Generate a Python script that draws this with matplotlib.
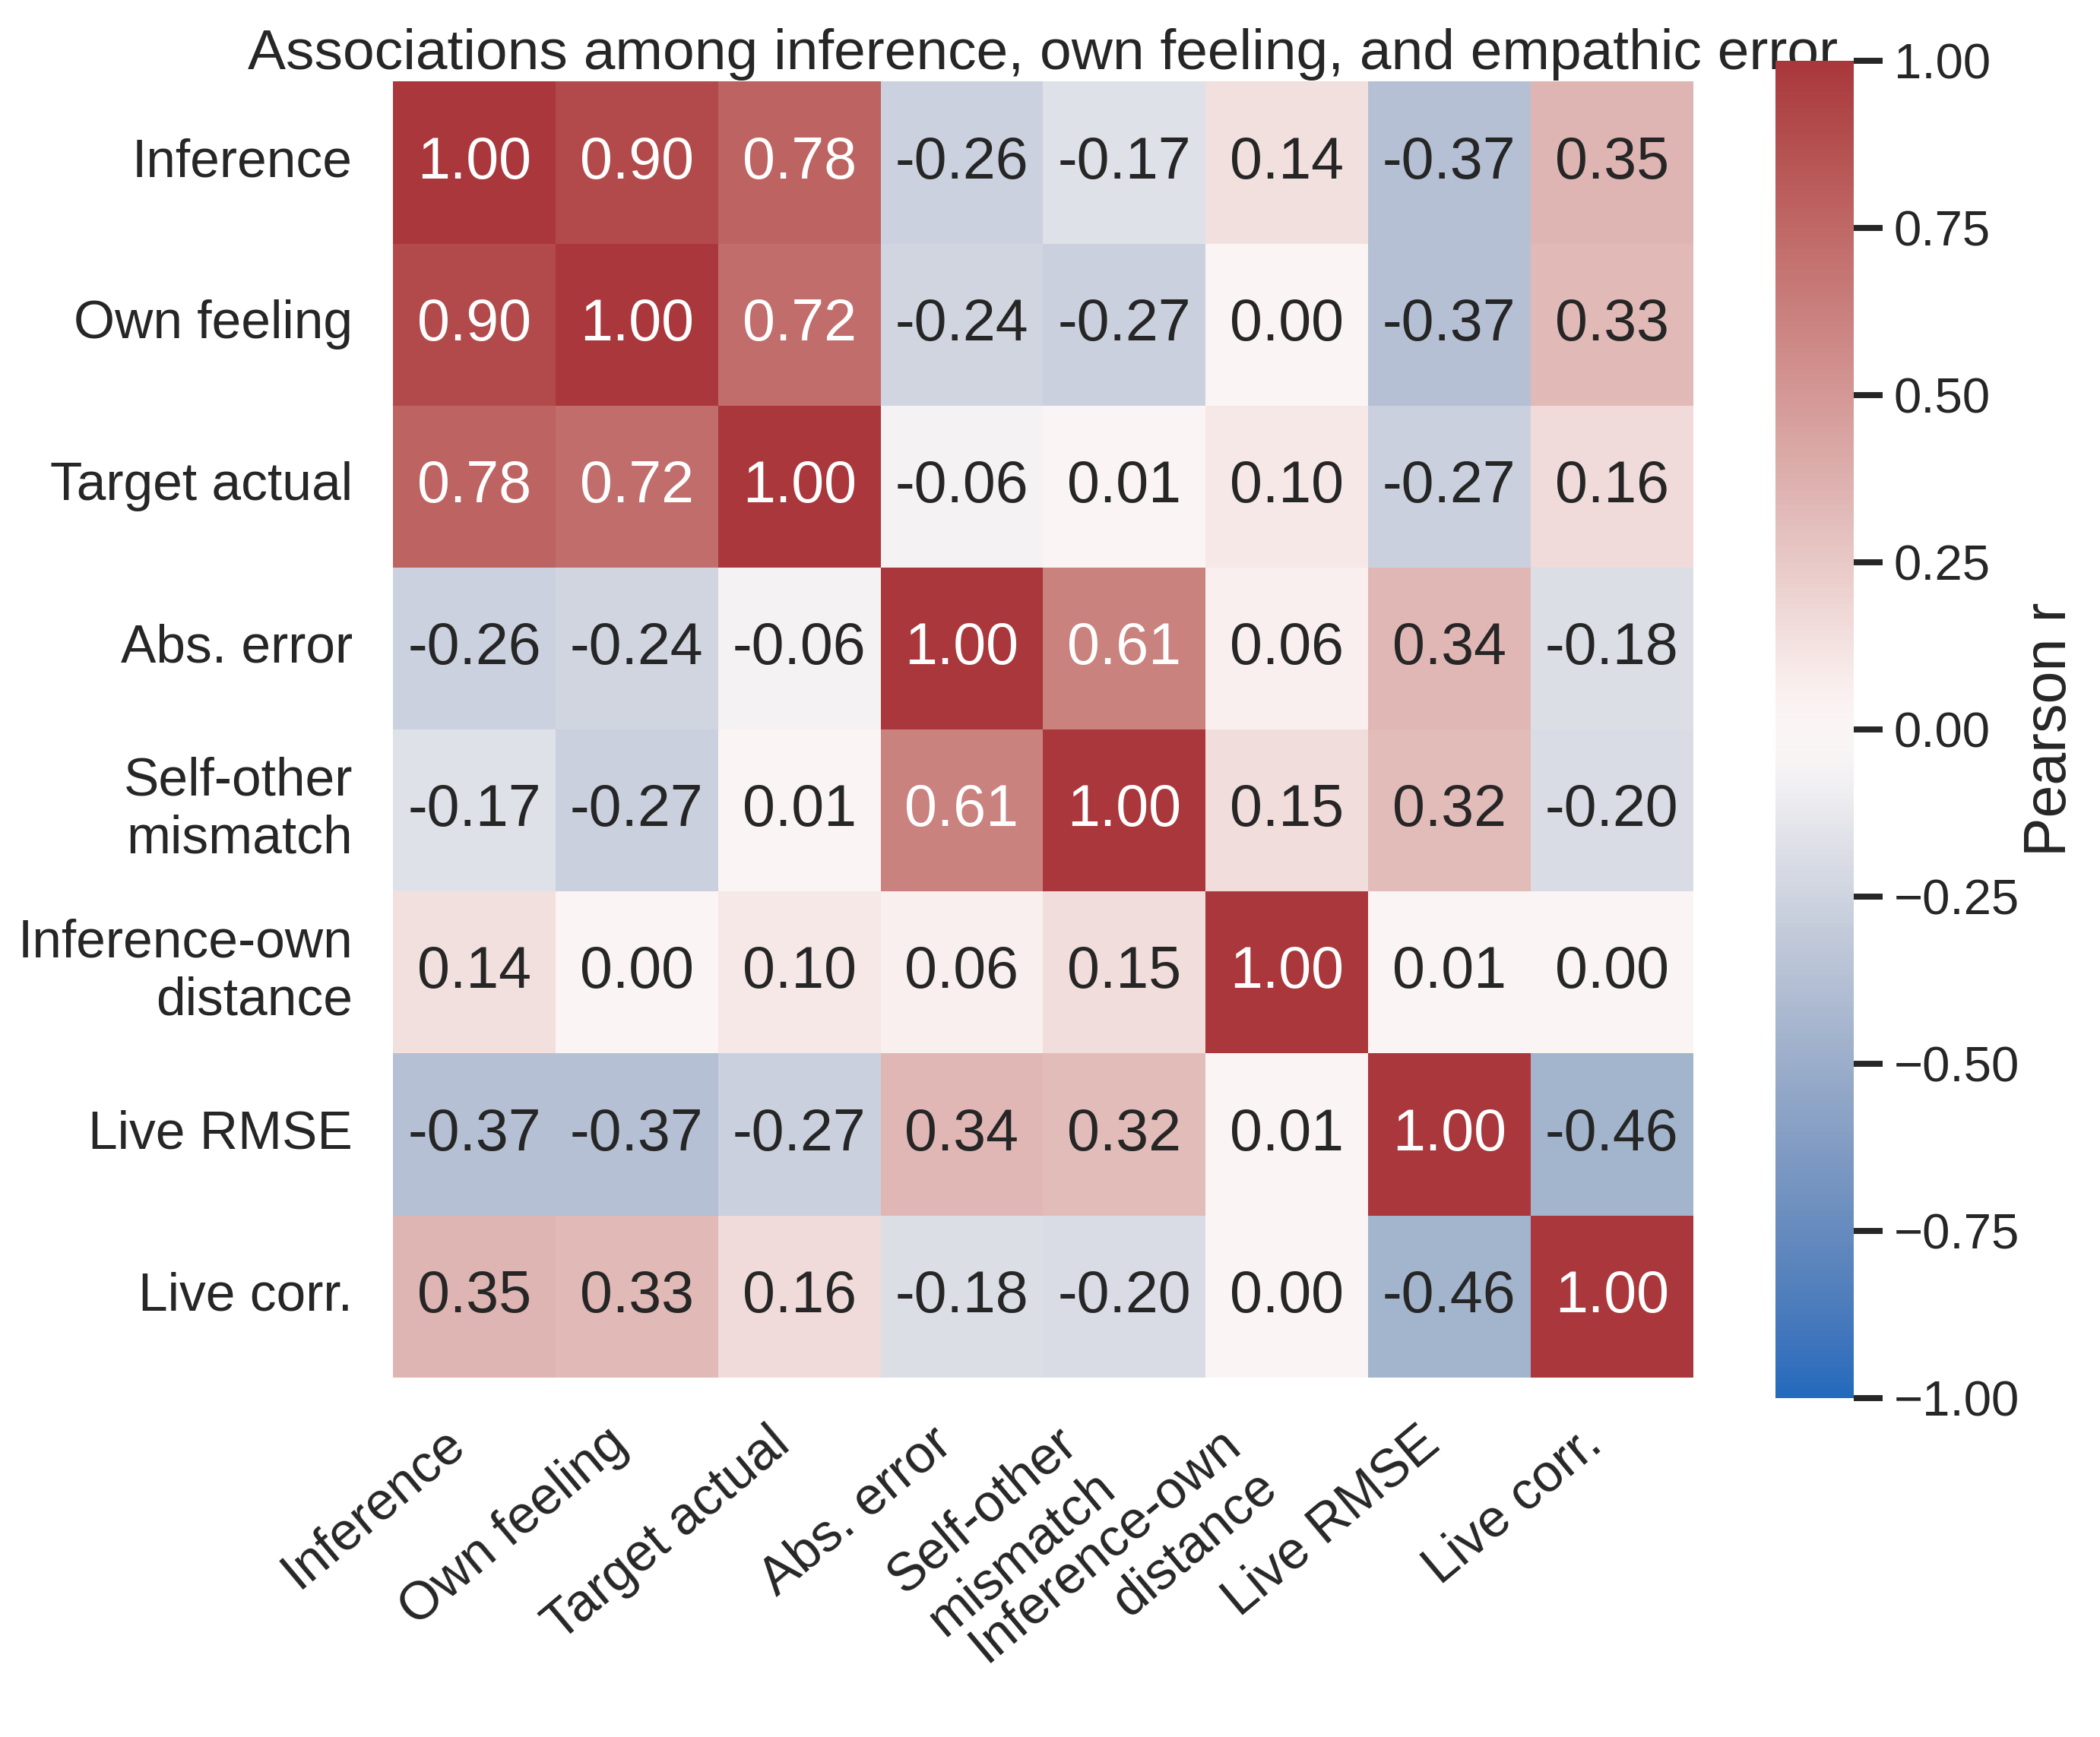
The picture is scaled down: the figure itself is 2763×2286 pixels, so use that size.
import numpy as np
import matplotlib
matplotlib.use("Agg")
import matplotlib.pyplot as plt
import seaborn as sns

labels = ["Inference", "Own feeling", "Target actual", "Abs. error",
          "Self-other\nmismatch", "Inference-own\ndistance", "Live RMSE", "Live corr."]

corr = np.array([
    [1.00, 0.90, 0.78, -0.26, -0.17, 0.14, -0.37, 0.35],
    [0.90, 1.00, 0.72, -0.24, -0.27, 0.00, -0.37, 0.33],
    [0.78, 0.72, 1.00, -0.06, 0.01, 0.10, -0.27, 0.16],
    [-0.26, -0.24, -0.06, 1.00, 0.61, 0.06, 0.34, -0.18],
    [-0.17, -0.27, 0.01, 0.61, 1.00, 0.15, 0.32, -0.20],
    [0.14, 0.00, 0.10, 0.06, 0.15, 1.00, 0.01, 0.00],
    [-0.37, -0.37, -0.27, 0.34, 0.32, 0.01, 1.00, -0.46],
    [0.35, 0.33, 0.16, -0.18, -0.20, 0.00, -0.46, 1.00],
])

sns.set_theme(style="white")
plt.rcParams['font.family'] = ['Liberation Sans', 'DejaVu Sans']
plt.rcParams['text.color'] = '#262626'

fig = plt.figure(figsize=(9.21, 7.62), dpi=300)
ax = fig.add_axes([0.1872, 0.207, 0.619, 0.746])
cax = fig.add_axes([0.8456, 0.195, 0.0373, 0.770])

sns.heatmap(corr, ax=ax, cbar_ax=cax, cmap="vlag", vmin=-1, vmax=1,
            annot=True, fmt=".2f", annot_kws={"size": 18.5},
            xticklabels=labels, yticklabels=labels, square=False)

ax.tick_params(axis='both', length=0, labelsize=16.7, colors='#262626', pad=12.8)
ax.set_xticklabels(labels, rotation=40, ha='right')
ax.set_yticklabels(labels, rotation=0)
ax.set_title("Associations among inference, own feeling, and empathic error",
             fontsize=18, pad=4, color='#262626')

# colorbar ticks keep their marks
cax.tick_params(axis='y', length=9, width=1.9, labelsize=15.7, color='#262626', right=True)
cax.set_yticks([-1, -0.75, -0.5, -0.25, 0, 0.25, 0.5, 0.75, 1])
cax.set_yticklabels(["\u22121.00", "\u22120.75", "\u22120.50", "\u22120.25", "0.00",
                     "0.25", "0.50", "0.75", "1.00"])
cax.set_ylabel("Pearson r", fontsize=18.5, color='#262626', labelpad=1)

fig.savefig("out.png", dpi=300)
